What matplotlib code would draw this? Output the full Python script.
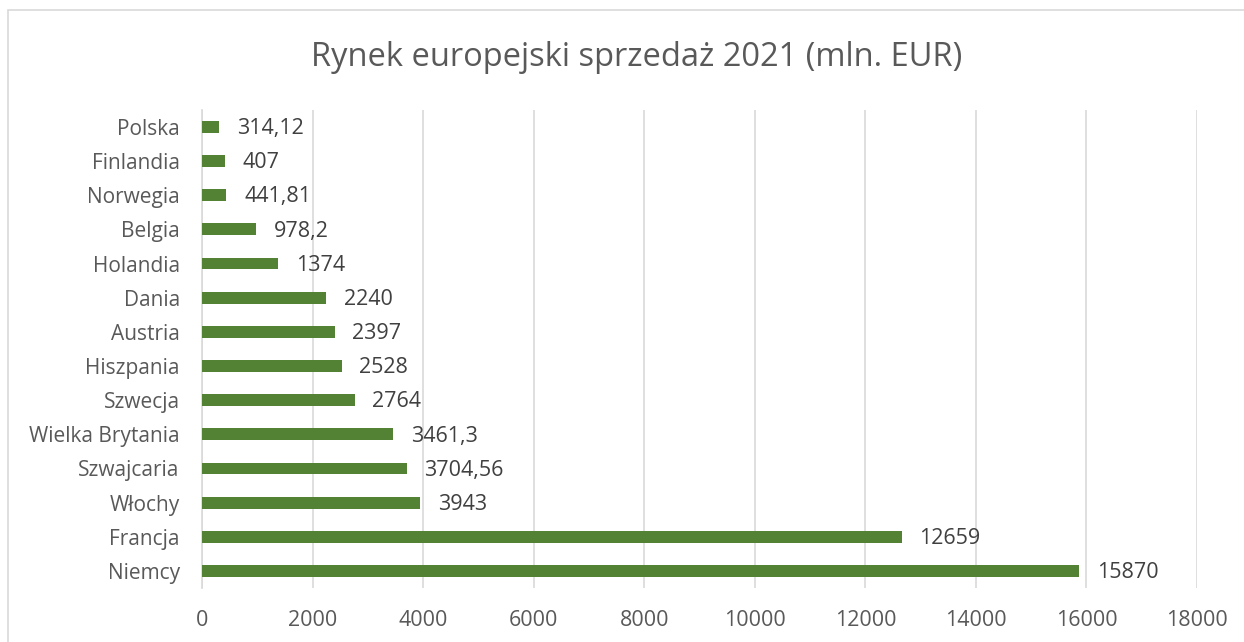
import matplotlib

matplotlib.use("Agg")
import matplotlib.pyplot as plt
from matplotlib.patches import Rectangle

# data, top to bottom as in the chart
countries = ["Polska", "Finlandia", "Norwegia", "Belgia", "Holandia", "Dania",
             "Austria", "Hiszpania", "Szwecja", "Wielka Brytania", "Szwajcaria",
             "Włochy", "Francja", "Niemcy"]
sales = [314.12, 407, 441.81, 978.2, 1374, 2240, 2397, 2528, 2764, 3461.3,
         3704.56, 3943, 12659, 15870]
value_labels = ["314,12", "407", "441,81", "978,2", "1374", "2240", "2397", "2528",
                "2764", "3461,3", "3704,56", "3943", "12659", "15870"]
x_ticks = list(range(0, 18001, 2000))

plt.rcParams["font.family"] = ["Open Sans", "DejaVu Sans"]
text_color = "#595959"
bar_color = "#548235"

fig = plt.figure(figsize=(12.44, 6.42), dpi=100)
ax = fig.add_axes([0.1624, 0.084, 0.7998, 0.745])

ypos = list(range(len(countries)))[::-1]
ax.barh(ypos, sales, height=0.35, color=bar_color, zorder=3)
for y, v, lab in zip(ypos, sales, value_labels):
    ax.text(v + 320, y - 0.05, lab, va="center", ha="left", fontsize=15.5,
            color="#404040", zorder=4)

ax.set_xlim(0, 18000)
ax.set_ylim(-0.5, len(countries) - 0.5)
ax.set_xticks(x_ticks)
ax.set_yticks(ypos)
ax.set_yticklabels(countries)
ax.tick_params(axis="x", length=0, labelsize=15.5, colors=text_color, pad=16)
ax.tick_params(axis="y", length=0, labelsize=15, colors=text_color, pad=16)
ax.grid(axis="x", color="#d9d9d9", linewidth=1.2, zorder=0)
for s in ["top", "right", "bottom"]:
    ax.spines[s].set_visible(False)
ax.spines["left"].set_color("#d9d9d9")
ax.spines["left"].set_linewidth(1.2)

# title is centred on the full (cropped) chart frame, a bit right of the image centre
fig.text(0.512, 0.911, "Rynek europejski sprzedaż 2021 (mln. EUR)", ha="center",
         va="center", fontsize=23.5, color=text_color)

# chart frame (cropped on right and bottom)
fig.patches.append(Rectangle((8 / 1244, -0.1), 1.2, 1.1 - 10 / 642,
                             transform=fig.transFigure, fill=False,
                             edgecolor="#d9d9d9", linewidth=1.2))

fig.savefig("out.png", dpi=100)
